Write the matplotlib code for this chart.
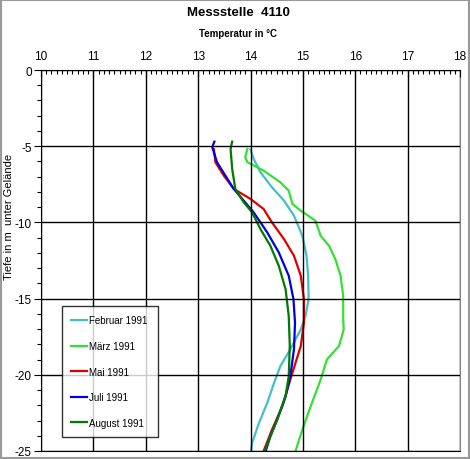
import matplotlib.pyplot as plt
import numpy as np
from matplotlib.ticker import MultipleLocator
from matplotlib.patches import Rectangle

plt.rcParams['font.family'] = ['Liberation Sans', 'DejaVu Sans']
plt.rcParams['axes.unicode_minus'] = False

# Temperaturprofile (Temperatur in °C, Tiefe in m)
feb_temp = [14.00, 14.06, 14.19, 14.41, 14.64, 14.83, 14.99, 15.07, 15.10, 15.11, 15.05, 14.96, 14.76,
            14.57, 14.45, 14.32, 14.16, 14.03, 14.01]
feb_depth = [-5.22, -5.83, -6.71, -7.70, -8.57, -9.56, -10.88, -12.19, -13.50, -15.04, -16.14, -17.02,
             -18.33, -19.43, -20.53, -21.84, -23.18, -24.47, -25.0]

mar_temp = [13.94, 13.90, 13.94, 14.25, 14.57, 14.73, 14.80, 14.96, 15.24, 15.34, 15.50, 15.62, 15.72,
            15.77, 15.77, 15.78, 15.69, 15.46, 15.34, 15.15, 14.99, 14.86]
mar_depth = [-5.18, -5.72, -6.05, -6.60, -7.37, -7.92, -8.79, -9.23, -9.89, -10.88, -11.54, -12.41,
             -13.50, -14.82, -16.36, -17.02, -18.11, -18.99, -20.31, -22.06, -23.60, -25.0]

mai_temp = [13.30, 13.33, 13.49, 13.68, 14.00, 14.25, 14.41, 14.64, 14.83, 14.96, 15.02, 15.02, 14.96,
            14.86, 14.76, 14.61, 14.41, 14.25]
mai_depth = [-5.18, -6.05, -6.93, -7.80, -8.46, -9.12, -10.00, -11.10, -12.19, -13.50, -15.04, -16.58,
             -18.11, -19.21, -20.31, -22.06, -23.60, -25.0]

jul_temp = [13.31, 13.27, 13.36, 13.52, 13.68, 13.87, 14.06, 14.32, 14.54, 14.73, 14.82, 14.85, 14.83,
            14.76, 14.67, 14.51, 14.38, 14.29]
jul_depth = [-4.70, -5.07, -6.05, -6.93, -7.80, -8.57, -9.34, -10.66, -11.97, -13.50, -15.04, -16.58,
             -18.33, -20.09, -21.40, -22.94, -24.03, -25.0]

aug_temp = [13.65, 13.62, 13.65, 13.71, 13.87, 14.03, 14.19, 14.38, 14.54, 14.67, 14.73, 14.75, 14.73,
            14.67, 14.51, 14.38, 14.27]
aug_depth = [-4.70, -5.18, -6.49, -7.80, -8.68, -9.34, -10.44, -11.54, -12.85, -14.39, -16.14, -18.11,
             -20.09, -21.40, -22.94, -24.03, -25.0]

series = [
    ('Februar 1991', feb_temp, feb_depth, '#45bfc6'),
    ('März 1991', mar_temp, mar_depth, '#33e033'),
    ('Mai 1991', mai_temp, mai_depth, '#e00000'),
    ('Juli 1991', jul_temp, jul_depth, '#0000e0'),
    ('August 1991', aug_temp, aug_depth, '#007a00'),
]

fig = plt.figure(figsize=(4.7, 4.6), dpi=100)
ax = fig.add_axes([41 / 470, 1 - 452 / 460, 419 / 470, 381 / 460])

for label, t, d, c in series:
    ax.plot(t, d, color=c, linewidth=1.6, label=label)

ax.set_xlim(10, 18)
ax.set_ylim(-25, 0)
ax.xaxis.tick_top()
ax.xaxis.set_major_locator(MultipleLocator(1))
ax.xaxis.set_minor_locator(MultipleLocator(0.1))
ax.yaxis.set_major_locator(MultipleLocator(5))
ax.yaxis.set_minor_locator(MultipleLocator(1))
ax.grid(True, which='major', color='black', linewidth=1)
ax.tick_params(axis='x', which='both', direction='in', labelsize=8.5, pad=6)
ax.tick_params(axis='x', which='major', length=5)
ax.tick_params(axis='x', which='minor', length=3, width=0.8)
ax.tick_params(axis='y', which='both', direction='out', labelsize=8.5, pad=1.5)
ax.tick_params(axis='y', which='major', length=5)
ax.tick_params(axis='y', which='minor', length=3, width=0.8)
for s in ['left', 'top', 'bottom']:
    ax.spines[s].set_color('black')
ax.spines['right'].set_color('#888888')
ax.set_axisbelow(False)

fig.text(238 / 470, 1 - 13 / 460, 'Messstelle  4110', ha='center', va='center', fontsize=9.5,
         fontweight='bold')
fig.text(238 / 470, 1 - 34 / 460, 'Temperatur in °C', ha='center', va='center', fontsize=7,
         fontweight='bold')
fig.text(9 / 470, 1 - 217 / 460, 'Tiefe in m  unter Gelände', ha='center', va='center', fontsize=8,
         rotation=90)

leg = ax.legend(loc='lower left', bbox_to_anchor=(0.05, 0.037, 0.23, 0.343), mode='expand',
                frameon=True, fancybox=False, fontsize=7, handlelength=1.6, handletextpad=0.2,
                labelspacing=1.6, borderpad=0.95, borderaxespad=0)
leg.get_frame().set_edgecolor('black')
leg.get_frame().set_linewidth(1)

fig.patches.append(Rectangle((0.002, 0.002), 0.996, 0.996, transform=fig.transFigure,
                             fill=False, edgecolor='#999999', linewidth=1.5))

fig.savefig('out.png', dpi=100)
